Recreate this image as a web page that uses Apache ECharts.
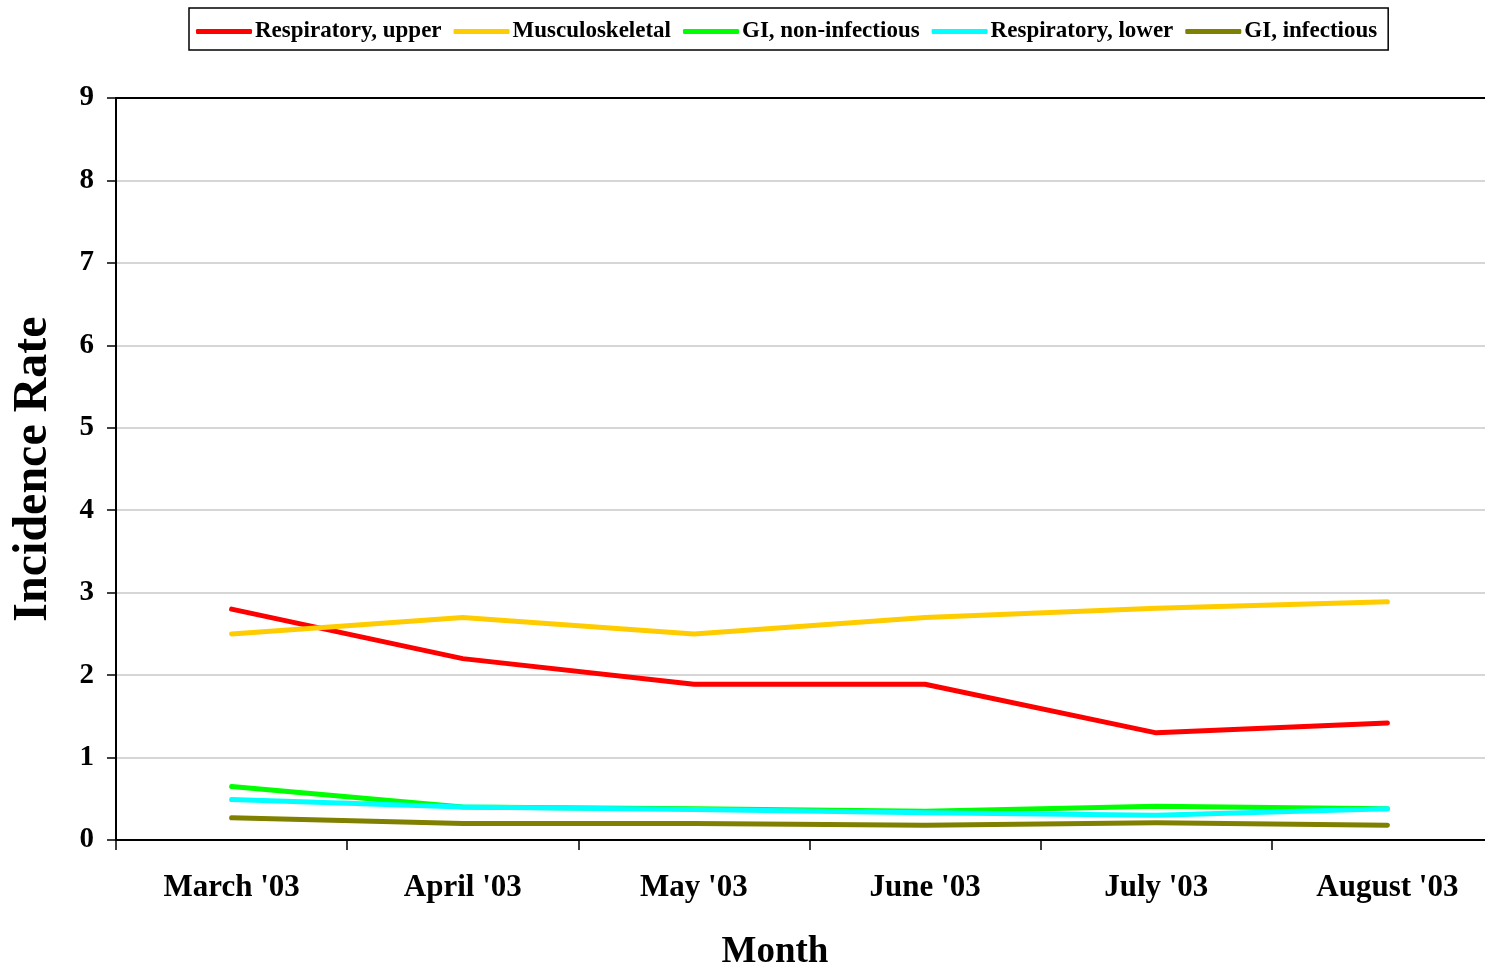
<!DOCTYPE html>
<html>
<head>
<meta charset="utf-8">
<script src="https://cdn.jsdelivr.net/npm/echarts@6/dist/echarts.min.js"></script>
<style>
  html, body { margin: 0; padding: 0; background: #fff; overflow: hidden; }
  #chart { width: 1530px; height: 971px; }
</style>
</head>
<body>
<div id="chart"></div>
<script>
// Monthly incidence rates by illness category
const months = ["March '03", "April '03", "May '03", "June '03", "July '03", "August '03"];
const yTicks = [0, 1, 2, 3, 4, 5, 6, 7, 8, 9];

const respiratoryUpper = [2.8, 2.2, 1.89, 1.89, 1.3, 1.42];
const musculoskeletal  = [2.5, 2.7, 2.5, 2.7, 2.81, 2.89];
const giNonInfectious  = [0.65, 0.4, 0.38, 0.35, 0.41, 0.38];
const respiratoryLower = [0.49, 0.4, 0.37, 0.33, 0.3, 0.38];
const giInfectious     = [0.27, 0.2, 0.2, 0.18, 0.21, 0.18];

const seriesDefs = [
  { name: 'Respiratory, upper', data: respiratoryUpper, color: '#FF0000' },
  { name: 'Musculoskeletal',    data: musculoskeletal,  color: '#FFCC00' },
  { name: 'GI, non-infectious', data: giNonInfectious,  color: '#00FF00' },
  { name: 'Respiratory, lower', data: respiratoryLower, color: '#00FFFF' },
  { name: 'GI, infectious',     data: giInfectious,     color: '#808000' }
];

const serif = '"Liberation Serif", "Times New Roman", serif';

const chart = echarts.init(document.getElementById('chart'), null, { renderer: 'canvas' });

chart.setOption({
  animation: false,
  backgroundColor: '#fff',
  color: seriesDefs.map(s => s.color),
  legend: {
    left: 189,
    top: 8,
    orient: 'horizontal',
    padding: [12, 11, 7, 7],
    borderColor: '#000',
    borderWidth: 1.5,
    itemWidth: 56,
    itemHeight: 5,
    itemGap: 12,
    icon: 'roundRect',
    textStyle: { fontFamily: serif, fontWeight: 'bold', fontSize: 23, color: '#000', padding: [0, 0, 0, -2] },
    data: seriesDefs.map(s => s.name)
  },
  grid: { left: 116, top: 98, width: 1387, height: 742, containLabel: false },
  xAxis: [{
    type: 'category',
    data: months,
    boundaryGap: true,
    axisLine: { lineStyle: { color: '#000', width: 2 } },
    axisTick: { show: true, length: 10, inside: false, lineStyle: { color: '#000', width: 1.5 } },
    axisLabel: { fontFamily: serif, fontWeight: 'bold', fontSize: 31, color: '#000', margin: 32 },
    splitLine: { show: false }
  }, {
    type: 'category',
    position: 'top',
    data: months,
    axisLine: { show: true, lineStyle: { color: '#000', width: 2 } },
    axisTick: { show: false },
    axisLabel: { show: false }
  }],
  yAxis: {
    type: 'value',
    min: yTicks[0],
    max: yTicks[yTicks.length - 1],
    interval: 1,
    name: 'Incidence Rate',
    nameLocation: 'middle',
    nameGap: 58,
    nameTextStyle: { fontFamily: serif, fontWeight: 'bold', fontSize: 48, color: '#000' },
    axisLine: { show: true, lineStyle: { color: '#000', width: 2 } },
    axisTick: { show: true, length: 9, lineStyle: { color: '#000', width: 1.5 } },
    axisLabel: { fontFamily: serif, fontWeight: 'bold', fontSize: 29, color: '#000', margin: 22 },
    splitLine: { show: true, lineStyle: { color: '#c8c8c8', width: 1.5 } }
  },
  graphic: [{
    type: 'text',
    x: 775,
    y: 952,
    style: {
      text: 'Month',
      align: 'center',
      verticalAlign: 'middle',
      font: 'bold 37px ' + serif,
      fill: '#000'
    }
  }],
  series: seriesDefs.map(s => ({
    name: s.name,
    type: 'line',
    data: s.data,
    symbol: 'none',
    smooth: false,
    lineStyle: { color: s.color, width: 5, cap: 'round', join: 'round' },
    itemStyle: { color: s.color }
  }))
});
</script>
</body>
</html>
